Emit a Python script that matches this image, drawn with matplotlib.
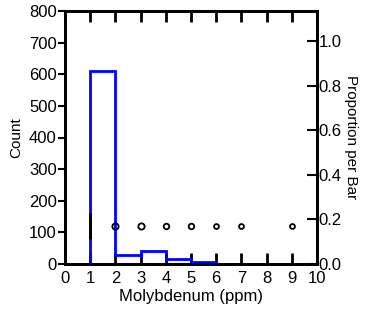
import matplotlib.pyplot as plt
import numpy as np

plt.rcParams['font.family'] = ['Liberation Sans', 'DejaVu Sans']

bin_edges = [0, 1, 2, 3, 4, 5, 6, 7, 8, 9, 10]
counts = [0, 610, 28, 42, 15, 6, 1, 1, 0, 1]
box_x = 1
box_y = 120
box_half = 40
outlier_x = [2, 3, 4, 5, 6, 7, 9]
outlier_size = [4.5, 4.5, 4, 4, 3.5, 3.5, 3.5]

total = sum(counts)

fig = plt.figure(figsize=(3.65, 3.13), dpi=100)
ax = fig.add_axes([65 / 365, 1 - 264 / 313, 252 / 365, 253 / 313])

ax.stairs(counts, bin_edges, color="#0000ff", linewidth=2, baseline=0, zorder=2)
ax.vlines(box_x, box_y - box_half, box_y + box_half, colors="black", linewidth=2, zorder=3)
for xo, s in zip(outlier_x, outlier_size):
    ax.plot(xo, box_y, "o", mfc="none", mec="black", mew=1.3, ms=s, zorder=3)

ax.set_xlim(0, 10)
ax.set_ylim(0, 800)
ax.set_xticks(range(0, 11))
ax.set_yticks(range(0, 801, 100))
ax.tick_params(axis="x", direction="in", length=8, width=2, top=True, labelsize=12, pad=5)
ax.tick_params(axis="y", direction="out", length=5, width=1.5, labelsize=12, pad=1)
for sp in ax.spines.values():
    sp.set_linewidth(2)
ax.set_xlabel("Molybdenum (ppm)", fontsize=12, labelpad=2)
ax.set_ylabel("Count", fontsize=11, labelpad=4)

ax2 = ax.twinx()
ax2.set_ylim(0, 800 / total)
ax2.set_yticks([0.0, 0.2, 0.4, 0.6, 0.8, 1.0])
ax2.set_yticklabels(["0.0", "0.2", "0.4", "0.6", "0.8", "1.0"])
ax2.tick_params(axis="y", direction="in", length=7, width=1.5, labelsize=12, pad=1)
for sp in ax2.spines.values():
    sp.set_linewidth(2)
ax2.set_ylabel("Proportion per Bar", fontsize=11, rotation=270, labelpad=12)

fig.savefig("out.png", dpi=100)
